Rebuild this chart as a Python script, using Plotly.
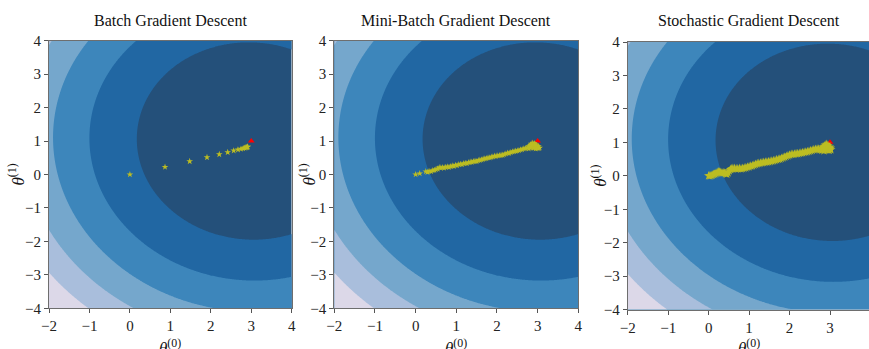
import numpy as np
import plotly.graph_objects as go

# ---------------- data ----------------
titles = ["Batch Gradient Descent", "Mini-Batch Gradient Descent", "Stochastic Gradient Descent"]
x_ticks = [-2, -1, 0, 1, 2, 3, 4]
y_ticks = [-4, -3, -2, -1, 0, 1, 2, 3, 4]

# optimum (red triangle)
theta_best = [3.0, 1.0]

# cost surface parameters (quadratic MSE bowl) and contour levels
cost_center = [3.0, 1.0]
cost_h00 = 1.0
cost_h11 = 0.92
cost_h01 = 0.02
cost_levels = [8, 16, 24, 32, 40]

# batch gradient descent path
batch_t0 = [0.00, 0.868, 1.478, 1.906, 2.21, 2.418, 2.566, 2.671, 2.746, 2.80, 2.837,
            2.864, 2.883, 2.897, 2.907, 2.914]
batch_t1 = [0.00, 0.224, 0.394, 0.514, 0.604, 0.664, 0.712, 0.742, 0.765, 0.782, 0.795,
            0.805, 0.812, 0.818, 0.824, 0.830]

# mini-batch gradient descent path
mb_t0 = [0.00, 0.10, 0.25, 0.29, 0.33, 0.38, 0.42, 0.46, 0.50, 0.54, 0.58, 0.62, 0.66, 0.70,
         0.74, 0.78, 0.82, 0.86, 0.90, 0.94, 0.98, 1.02, 1.06, 1.10, 1.14, 1.18, 1.22, 1.26,
         1.30, 1.34, 1.38, 1.42, 1.46, 1.50, 1.54, 1.58, 1.62, 1.66, 1.70, 1.74, 1.78, 1.82,
         1.86, 1.90, 1.94, 1.98, 2.02, 2.06, 2.10, 2.14, 2.18, 2.22, 2.26, 2.30, 2.34, 2.38,
         2.42, 2.46, 2.50, 2.54, 2.58, 2.62, 2.66, 2.70, 2.74,
         2.78, 2.82, 2.84, 2.88, 2.92, 2.95, 2.98, 3.02, 3.05, 3.00, 2.95, 2.90, 2.86, 2.82,
         2.78, 2.88, 2.93, 2.97, 3.03, 2.85, 2.90, 2.80, 2.96]
mb_t1 = [0.00, 0.03, 0.09, 0.07, 0.10, 0.09, 0.12, 0.13, 0.15, 0.17, 0.21, 0.20, 0.21, 0.20,
         0.22, 0.23, 0.22, 0.24, 0.26, 0.25, 0.28, 0.27, 0.30, 0.31, 0.30, 0.33, 0.34, 0.33,
         0.36, 0.37, 0.37, 0.39, 0.40, 0.39, 0.42, 0.43, 0.44, 0.46, 0.47, 0.48, 0.50, 0.50,
         0.52, 0.53, 0.55, 0.55, 0.56, 0.57, 0.58, 0.58, 0.60, 0.62, 0.64, 0.64, 0.66, 0.68,
         0.69, 0.70, 0.71, 0.72, 0.74, 0.75, 0.77, 0.78, 0.80,
         0.84, 0.88, 0.92, 0.94, 0.93, 0.90, 0.86, 0.84, 0.80, 0.78, 0.77, 0.79, 0.82, 0.80,
         0.77, 0.86, 0.84, 0.81, 0.79, 0.88, 0.90, 0.82, 0.87]

# stochastic gradient descent path
sgd_t0 = [0.00, 0.03, 0.06, 0.09, 0.12, 0.15, 0.18, 0.21, 0.24, 0.27, 0.30, 0.33, 0.36, 0.39,
          0.42, 0.45, 0.48, 0.51, 0.54, 0.57, 0.60, 0.64, 0.68, 0.72, 0.76, 0.80, 0.84, 0.88,
          0.92, 0.96, 1.00, 1.04, 1.08, 1.12, 1.16, 1.20, 1.24, 1.28, 1.32, 1.36, 1.40, 1.44,
          1.48, 1.52, 1.56, 1.60, 1.64, 1.68, 1.72, 1.76, 1.80, 1.84, 1.88, 1.92, 1.96, 2.00,
          2.04, 2.08, 2.12, 2.16, 2.20, 2.24, 2.28, 2.32, 2.36, 2.40, 2.44, 2.48, 2.52, 2.56,
          2.60, 2.64, 2.68, 2.72,
          2.76, 2.80, 2.84, 2.88, 2.92, 2.96, 3.00, 3.02, 2.98, 2.94, 2.90, 2.86, 2.88, 2.92,
          2.95, 2.99, 2.83, 2.80, 2.85, 2.93, 2.97, 3.01, 2.90, 2.86]
sgd_t1 = [0.00, 0.00, 0.01, 0.02, 0.04, 0.05, 0.07, 0.10, 0.12, 0.11, 0.10, 0.09, 0.09, 0.08,
          0.06, 0.05, 0.09, 0.15, 0.19, 0.21, 0.22, 0.22, 0.21, 0.21, 0.22, 0.21, 0.22, 0.23,
          0.24, 0.26, 0.27, 0.29, 0.30, 0.32, 0.34, 0.36, 0.37, 0.38, 0.39, 0.40, 0.41, 0.41,
          0.42, 0.43, 0.44, 0.45, 0.46, 0.48, 0.49, 0.50, 0.52, 0.54, 0.56, 0.58, 0.60, 0.62,
          0.64, 0.64, 0.65, 0.66, 0.66, 0.67, 0.68, 0.69, 0.70, 0.71, 0.72, 0.73, 0.75, 0.76,
          0.78, 0.79, 0.80, 0.80,
          0.78, 0.80, 0.82, 0.84, 0.86, 0.82, 0.80, 0.78, 0.76, 0.77, 0.79, 0.88, 0.92, 0.94,
          0.90, 0.86, 0.86, 0.76, 0.75, 0.80, 0.84, 0.83, 0.88, 0.80]

paths = [(batch_t0, batch_t1), (mb_t0, mb_t1), (sgd_t0, sgd_t1)]

# ---------------- style ----------------
band_colors = ["#24507a", "#2167a3", "#3d86bb", "#75a7cc", "#a9bedc", "#dcd8e8"]
star_color = "#bcbd22"
serif = "Liberation Serif"
W, H = 869, 349

# pixel layout of the three panels, in window pixels
panel_px = [(49.0, 291.7, 40.7, 308.3), (334.3, 578.3, 40.7, 308.3), (627.7, 870.5, 42.0, 309.6)]
ylabel_px = [16, 307, 599]
star_sizes = [5, 5, 7]


def fx(px):
    return px / W


def fy(py):
    return 1 - py / H


# stepped colour scale for filled contours
cscale = []
edges = [0.0, 0.1, 0.3, 0.5, 0.7, 0.9, 1.0]
for i, c in enumerate(band_colors):
    cscale.append([edges[i], c])
    cscale.append([edges[i + 1], c])

gx = np.linspace(-2, 4, 241)
gy = np.linspace(-4, 4, 321)
GX, GY = np.meshgrid(gx, gy)
dX = GX - cost_center[0]
dY = GY - cost_center[1]
Z = cost_h00 * dX ** 2 + cost_h11 * dY ** 2 + 2 * cost_h01 * dX * dY

fig = go.Figure()
annotations = []
layout_axes = {}
for k in range(3):
    xa = "x" if k == 0 else f"x{k+1}"
    ya = "y" if k == 0 else f"y{k+1}"
    fig.add_trace(go.Contour(
        x=gx, y=gy, z=Z, xaxis=xa, yaxis=ya,
        autocontour=False,
        contours=dict(start=cost_levels[0], end=cost_levels[-1],
                      size=cost_levels[1] - cost_levels[0], coloring="fill"),
        colorscale=cscale, showscale=False, line=dict(width=0),
        hoverinfo="skip",
    ))
    px_, py_ = paths[k]
    red = go.Scatter(
        x=[theta_best[0]], y=[theta_best[1]], xaxis=xa, yaxis=ya, mode="markers",
        marker=dict(symbol="triangle-up", size=6, color="#ff0000", line=dict(width=0)),
        showlegend=False,
    )
    stars = go.Scatter(
        x=px_, y=py_, xaxis=xa, yaxis=ya, mode="markers",
        marker=dict(symbol="star", size=star_sizes[k], color=star_color, line=dict(width=0)),
        showlegend=False,
    )
    if k == 0:
        fig.add_trace(stars)
        fig.add_trace(red)
    else:
        fig.add_trace(red)
        fig.add_trace(stars)

    x0, x1, y0, y1 = panel_px[k]
    x1c = min(x1, W)
    dom_x = [fx(x0), fx(x1c)]
    dom_y = [fy(y1), fy(y0)]
    axis_common = dict(
        showline=True, mirror=True, linecolor="#6e6e6e", linewidth=1,
        ticks="outside", ticklen=4, tickwidth=1, tickcolor="#555555",
        showgrid=False, zeroline=False, automargin=False,
        tickfont=dict(family=serif, size=15, color="#222222"),
    )
    # panel 3 runs past the right edge of the image; keep the same scale
    xr = [-2, -2 + 6 * (x1c - x0) / (x1 - x0)]
    layout_axes["xaxis" if k == 0 else f"xaxis{k+1}"] = dict(
        domain=dom_x, range=xr, anchor=ya, tickvals=x_ticks, **axis_common)
    layout_axes["yaxis" if k == 0 else f"yaxis{k+1}"] = dict(
        domain=dom_y, range=[-4, 4], anchor=xa, tickvals=y_ticks, **axis_common)

    cx = (x0 + x1) / 2
    annotations.append(dict(
        text=titles[k], x=fx(cx), y=fy(21), xref="paper", yref="paper",
        xanchor="center", yanchor="middle", showarrow=False,
        font=dict(family=serif, size=16, color="#111111")))
    annotations.append(dict(
        text="<i>θ</i><sup>(0)</sup>", x=fx(cx), y=fy(334), xref="paper", yref="paper",
        xanchor="center", yanchor="top", showarrow=False,
        font=dict(family=serif, size=17, color="#111111")))
    annotations.append(dict(
        text="<i>θ</i><sup>(1)</sup>", x=fx(ylabel_px[k]), y=fy((y0 + y1) / 2),
        xref="paper", yref="paper", xanchor="center", yanchor="middle",
        textangle=-90, showarrow=False,
        font=dict(family=serif, size=17, color="#111111")))

fig.update_layout(
    width=W, height=H,
    margin=dict(l=0, r=0, t=0, b=0, autoexpand=False),
    paper_bgcolor="white", plot_bgcolor="white",
    showlegend=False,
    annotations=annotations,
    **layout_axes,
)

fig.write_html(
    "out.html",
    config={"displayModeBar": False},
    post_script="document.body.style.margin='0px';document.body.style.overflow='hidden';",
)
